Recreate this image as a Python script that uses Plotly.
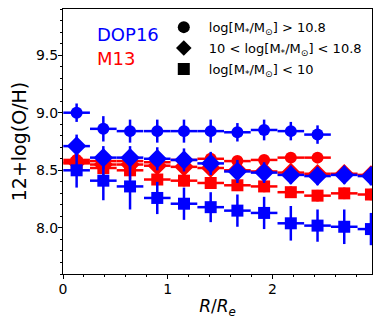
import plotly.graph_objects as go

# Radial bins (R/Re)
r_bins = [0.13, 0.385, 0.64, 0.9, 1.155, 1.41, 1.665, 1.92, 2.175, 2.43, 2.685, 2.94]
r_half = 0.127

# DOP16 (blue)
dop_high = [9.00, 8.86, 8.84, 8.84, 8.84, 8.84, 8.83, 8.85, 8.84, 8.81]
dop_high_err = [0.08, 0.11, 0.10, 0.10, 0.10, 0.10, 0.08, 0.09, 0.08, 0.08]
dop_mid = [8.71, 8.61, 8.61, 8.60, 8.59, 8.56, 8.49, 8.48, 8.46, 8.45, 8.46, 8.45]
dop_mid_err = [0.10, 0.10, 0.10, 0.10, 0.10, 0.10, 0.10, 0.09, 0.08, 0.08, 0.08, 0.08]
dop_low = [8.50, 8.41, 8.36, 8.26, 8.21, 8.18, 8.15, 8.13, 8.04, 8.02, 8.01, 7.99]
dop_low_err = [0.15, 0.17, 0.20, 0.14, 0.14, 0.13, 0.14, 0.14, 0.15, 0.14, 0.15, 0.14]

# M13 (red)
m13_high = [8.59, 8.58, 8.58, 8.57, 8.59, 8.60, 8.58, 8.59, 8.61, 8.61]
m13_high_err = [0.04, 0.04, 0.04, 0.04, 0.04, 0.04, 0.04, 0.04, 0.03, 0.03]
m13_mid = [8.57, 8.55, 8.55, 8.54, 8.53, 8.52, 8.50, 8.49, 8.48, 8.47, 8.47, 8.46]
m13_mid_err = [0.05, 0.06, 0.06, 0.05, 0.05, 0.05, 0.05, 0.05, 0.04, 0.04, 0.04, 0.04]
m13_low = [8.56, 8.52, 8.50, 8.42, 8.41, 8.39, 8.37, 8.36, 8.31, 8.28, 8.30, 8.29]
m13_low_err = [0.06, 0.08, 0.08, 0.05, 0.05, 0.05, 0.05, 0.05, 0.05, 0.05, 0.05, 0.05]

legend_labels = [
    "log[M<sub>*</sub>/M<sub>\u2299</sub>] > 10.8",
    "10 < log[M<sub>*</sub>/M<sub>\u2299</sub>] < 10.8",
    "log[M<sub>*</sub>/M<sub>\u2299</sub>] < 10",
]
symbols = ["circle", "diamond", "square"]

BLUE = "#0000ff"
RED = "#ff0000"

fig = go.Figure()

def add_series(y, err, color, symbol, size):
    n = len(y)
    fig.add_trace(go.Scatter(
        x=r_bins[:n], y=y, mode="markers",
        marker=dict(symbol=symbol, size=size, color=color, line=dict(width=0)),
        error_x=dict(type="constant", value=r_half, color=color, thickness=2.5, width=0),
        error_y=dict(type="data", array=err, color=color, thickness=2.5, width=0),
        showlegend=False, hoverinfo="skip",
    ))

add_series(m13_high, m13_high_err, RED, "circle", 12)
add_series(m13_mid, m13_mid_err, RED, "diamond", 15)
add_series(m13_low, m13_low_err, RED, "square", 12)
add_series(dop_high, dop_high_err, BLUE, "circle", 12)
add_series(dop_mid, dop_mid_err, BLUE, "diamond", 15)
add_series(dop_low, dop_low_err, BLUE, "square", 12)

for i, (lab, sym) in enumerate(zip(legend_labels, symbols)):
    fig.add_trace(go.Scatter(
        x=[None], y=[None], mode="markers", name=lab, legendgroup=f"g{i}",
        marker=dict(symbol=sym, size=14, color="black"),
    ))

fig.add_annotation(text="DOP16", x=0.104, y=0.9025, xref="paper", yref="paper",
                   showarrow=False, xanchor="left", yanchor="middle",
                   font=dict(size=18, color=BLUE, family="DejaVu Sans"))
fig.add_annotation(text="M13", x=0.104, y=0.813, xref="paper", yref="paper",
                   showarrow=False, xanchor="left", yanchor="middle",
                   font=dict(size=18, color=RED, family="DejaVu Sans"))

axis_common = dict(
    showline=True, linecolor="black", linewidth=1, mirror=True,
    ticks="outside", ticklen=4, tickwidth=1, tickcolor="black",
    showgrid=False, zeroline=False, automargin=False,
    tickfont=dict(size=14, color="black", family="DejaVu Sans"),
)

# The page body adds an 8px offset; the figure is sized to compensate.
fig.update_layout(
    width=374, height=311,
    margin=dict(l=55, r=10, t=1, b=45),
    plot_bgcolor="white", paper_bgcolor="white",
    font=dict(family="DejaVu Sans", color="black"),
    xaxis=dict(range=[0, 2.95], tickvals=[0, 1, 2],
               minor=dict(dtick=0.2, tick0=0, ticks="outside", ticklen=2, tickcolor="black"),
               title=dict(text="<i>R</i>/<i>R<sub>e</sub></i>", font=dict(size=17), standoff=15),
               ticklabelstandoff=-2,
               **axis_common),
    yaxis=dict(range=[7.6, 9.9], tickvals=[8.0, 8.5, 9.0, 9.5], ticktext=["8.0", "8.5", "9.0", "9.5"],
               minor=dict(dtick=0.1, tick0=7.6, ticks="outside", ticklen=2, tickcolor="black"),
               title=dict(text="12+log(O/H)", font=dict(size=19), standoff=8),
               ticklabelstandoff=-3,
               **axis_common),
    legend=dict(x=0.31, y=0.988, xanchor="left", yanchor="top", bgcolor="rgba(0,0,0,0)",
                font=dict(size=13, family="DejaVu Sans"), itemsizing="constant",
                itemwidth=40, tracegroupgap=1),
)

fig.write_html("out.html")
